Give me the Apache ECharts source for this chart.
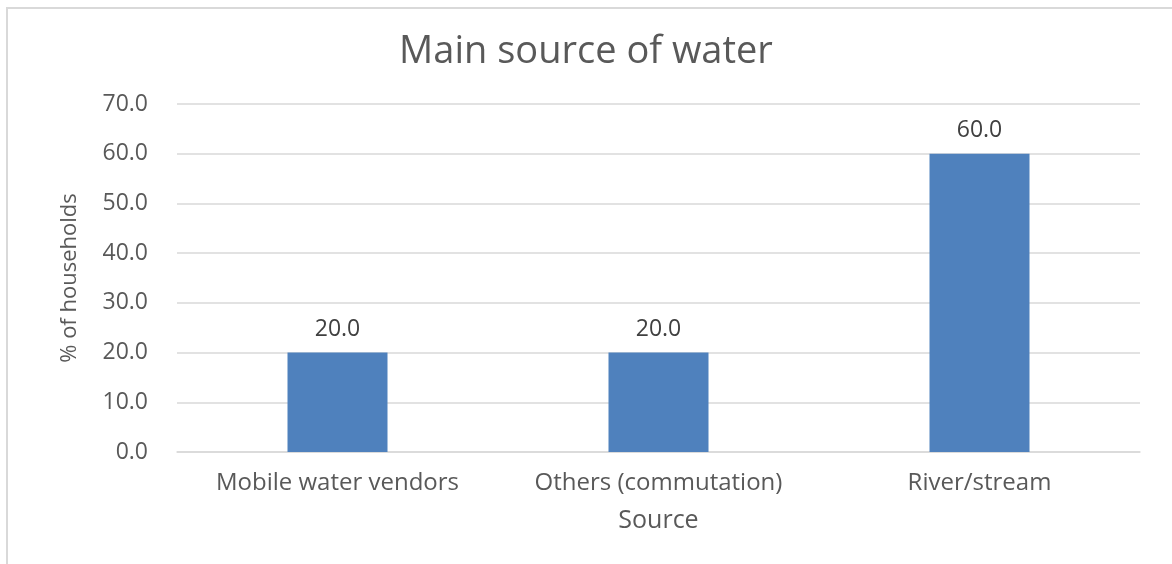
<!DOCTYPE html>
<html>
<head>
<meta charset="utf-8">
<script src="https://cdn.jsdelivr.net/npm/echarts@6/dist/echarts.min.js"></script>
<style>
    html, body { margin: 0; padding: 0; background: #fff; }
    #chart { width: 1172px; height: 564px; }
</style>
</head>
<body>
<div id="chart"></div>
<script>
const categories = ['Mobile water vendors', 'Others (commutation)', 'River/stream']
const households = [20.0, 20.0, 60.0]
const yTicks = [0, 10, 20, 30, 40, 50, 60, 70]

const textColor = '#595959'
const fontFamily = '"Open Sans", "Liberation Sans", sans-serif'

const chart = echarts.init(document.getElementById('chart'))

chart.setOption({
    animation: false,
    backgroundColor: '#fff',
    textStyle: { fontFamily },
    title: {
        text: 'Main source of water',
        left: 'center',
        top: 28,
        textStyle: {
            color: textColor,
            fontSize: 38,
            fontWeight: 'normal',
            fontFamily,
        },
    },
    graphic: [
        {
            type: 'rect',
            shape: { x: 7, y: 8, width: 1200, height: 600 },
            style: { fill: 'none', stroke: '#d9d9d9', lineWidth: 2 },
            silent: true,
        },
    ],
    grid: {
        left: 177,
        right: 32,
        top: 104,
        bottom: 112,
        containLabel: false,
    },
    xAxis: {
        type: 'category',
        data: categories,
        name: 'Source',
        nameLocation: 'middle',
        nameGap: 56,
        nameTextStyle: { color: textColor, fontSize: 25, fontFamily },
        axisLine: { lineStyle: { color: '#d9d9d9', width: 1.5 } },
        axisTick: { show: false },
        axisLabel: {
            color: textColor,
            fontSize: 24,
            margin: 19,
            interval: 0,
            hideOverlap: false,
            fontFamily,
        },
    },
    yAxis: {
        type: 'value',
        min: yTicks[0],
        max: yTicks[yTicks.length - 1],
        interval: 10,
        name: '% of households',
        nameLocation: 'middle',
        nameGap: 96,
        nameTextStyle: { color: textColor, fontSize: 22, fontFamily },
        axisLine: { show: false },
        axisTick: { show: false },
        axisLabel: {
            color: textColor,
            fontSize: 23,
            margin: 29,
            fontFamily,
            formatter: (v) => v.toFixed(1),
        },
        splitLine: { lineStyle: { color: '#d9d9d9', width: 1.5 } },
    },
    series: [
        {
            type: 'bar',
            data: households,
            barWidth: 100,
            itemStyle: { color: '#4f81bd' },
            label: {
                show: true,
                position: 'top',
                distance: 12,
                color: '#404040',
                fontSize: 23,
                fontFamily,
                formatter: (p) => p.value.toFixed(1),
            },
        },
    ],
})
</script>
</body>
</html>
